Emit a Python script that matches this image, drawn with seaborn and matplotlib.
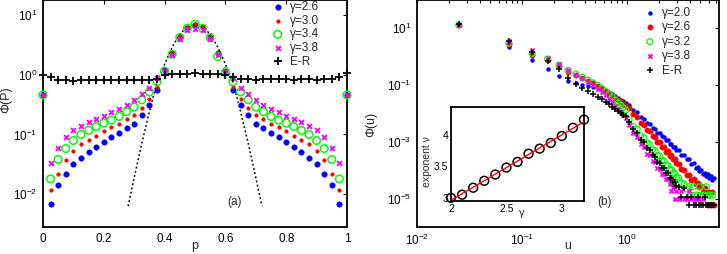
import numpy as np
import matplotlib
matplotlib.use("Agg")
import matplotlib.pyplot as plt
from matplotlib.ticker import NullLocator
import seaborn as sns

# ---------------- panel (a): Phi(P) against p ----------------
p_vals = [0.0, 0.025, 0.05, 0.075, 0.1, 0.125, 0.15, 0.175, 0.2, 0.225,
          0.25, 0.275, 0.3, 0.325, 0.35, 0.375, 0.4, 0.425, 0.45, 0.475,
          0.5, 0.525, 0.55, 0.575, 0.6, 0.625, 0.65, 0.675, 0.7, 0.725,
          0.75, 0.775, 0.8, 0.825, 0.85, 0.875, 0.9, 0.925, 0.95, 0.975, 1.0]

phi_g26 = [0.46, 0.0069, 0.014, 0.022, 0.032, 0.041, 0.051, 0.062, 0.074, 0.089,
           0.105, 0.126, 0.151, 0.209, 0.316, 0.56, 1.2, 2.3, 4.3, 6.1,
           6.8, 6.2, 4.3, 2.3, 1.2, 0.56, 0.316, 0.209, 0.151, 0.126,
           0.105, 0.089, 0.074, 0.062, 0.051, 0.041, 0.032, 0.022, 0.014, 0.0069, 0.46]
phi_g30 = [0.46, 0.0117, 0.022, 0.037, 0.052, 0.068, 0.081, 0.095, 0.112, 0.132,
           0.151, 0.178, 0.214, 0.282, 0.398, 0.63, 1.2, 2.3, 4.4, 6.3,
           7.0, 6.3, 4.4, 2.3, 1.2, 0.63, 0.398, 0.282, 0.214, 0.178,
           0.151, 0.132, 0.112, 0.095, 0.081, 0.068, 0.052, 0.037, 0.022, 0.0117, 0.46]
phi_g34 = [0.46, 0.018, 0.038, 0.058, 0.079, 0.100, 0.117, 0.135, 0.155, 0.174,
           0.200, 0.240, 0.288, 0.380, 0.513, 0.76, 1.15, 2.2, 4.2, 6.0,
           7.0, 6.0, 4.2, 2.0, 1.1, 0.76, 0.513, 0.380, 0.288, 0.240,
           0.200, 0.174, 0.155, 0.135, 0.117, 0.100, 0.079, 0.058, 0.038, 0.018, 0.46]
phi_g38 = [0.46, 0.033, 0.060, 0.089, 0.117, 0.138, 0.162, 0.182, 0.204, 0.234,
           0.269, 0.309, 0.372, 0.468, 0.603, 0.89, 1.1, 2.1, 4.0, 5.6,
           5.8, 5.6, 4.0, 2.1, 1.1, 0.89, 0.603, 0.468, 0.372, 0.309,
           0.269, 0.234, 0.204, 0.182, 0.162, 0.138, 0.117, 0.089, 0.060, 0.033, 0.46]
phi_er = [1.0, 0.92, 0.80, 0.80, 0.79, 0.80, 0.80, 0.80, 0.81, 0.80,
          0.80, 0.81, 0.80, 0.81, 0.81, 0.86, 0.98, 1.03, 1.04, 1.04,
          1.05, 1.04, 1.04, 1.03, 1.0, 0.93, 0.84, 0.84, 0.83, 0.84,
          0.84, 0.84, 0.84, 0.83, 0.84, 0.84, 0.83, 0.84, 0.84, 0.92, 1.05]

# dotted guide curve
guide_p = [0.28, 0.30, 0.325, 0.35, 0.375, 0.40, 0.425, 0.45, 0.475, 0.50,
           0.525, 0.55, 0.575, 0.60, 0.625, 0.65, 0.675, 0.70, 0.72]
guide_phi = [0.0063, 0.019, 0.071, 0.24, 0.76, 1.5, 2.9, 4.8, 6.3, 7.0,
             6.3, 4.8, 2.9, 1.5, 0.76, 0.24, 0.071, 0.019, 0.0063]

# ---------------- panel (b): Phi(u) against u (log10 of Phi) ----------------
u_vals = [0.025, 0.075, 0.125, 0.175, 0.225, 0.275, 0.325, 0.375, 0.425, 0.475,
          0.525, 0.575, 0.625, 0.675, 0.725, 0.775, 0.825, 0.875, 0.925, 0.975,
          1.05, 1.15, 1.25, 1.35, 1.45, 1.55, 1.65, 1.75, 1.85, 1.95,
          2.05, 2.15, 2.25, 2.35, 2.45, 2.55, 2.65, 2.75, 2.85, 2.95,
          3.1, 3.3, 3.5, 3.7, 3.9, 4.1, 4.3, 4.5, 4.7, 4.9,
          5.1, 5.3, 5.5, 5.7, 5.9, 6.1, 6.3, 6.5, 6.7]
nan = np.nan
logphi_g20 = [1.12, 0.33, -0.12, -0.44, -0.67, -0.84, -0.94, -0.99, -1.03, -1.07,
              -1.11, -1.16, -1.21, -1.27, -1.33, -1.39, -1.45, -1.51, -1.57, -1.63,
              -1.70, -1.88, -1.96, -2.13, -2.18, -2.33, -2.37, -2.51, -2.53, -2.67,
              -2.69, -2.81, -2.83, -2.95, -2.94, -3.08, -3.06, -3.19, -3.17, -3.29,
              -3.30, -3.46, -3.47, -3.62, -3.61, -3.77, -3.76, -3.91, -3.88, -4.03,
              -4.00, -4.13, -4.08, -4.20, -4.14, -4.27, -4.20, -4.33, -4.28]
logphi_g26 = [1.12, 0.45, 0.06, -0.13, -0.33, -0.52, -0.64, -0.74, -0.84, -0.93,
              -1.02, -1.11, -1.20, -1.29, -1.38, -1.46, -1.54, -1.61, -1.68, -1.74,
              -1.81, -2.03, -2.12, -2.33, -2.39, -2.58, -2.62, -2.80, -2.83, -3.00,
              -3.02, -3.17, -3.19, -3.34, -3.33, -3.49, -3.48, -3.62, -3.61, -3.75,
              -3.77, -3.95, -3.98, -4.16, -4.16, -4.33, -4.32, -4.47, -4.45, -4.60,
              -4.55, -4.77, -4.62, -4.77, -5.24, -4.77, -5.24, -4.77, -5.24]
logphi_g32 = [1.12, 0.48, 0.12, -0.08, -0.30, -0.48, -0.61, -0.72, -0.82, -0.92,
              -1.02, -1.12, -1.22, -1.32, -1.42, -1.52, -1.62, -1.71, -1.80, -1.88,
              -2.22, -2.46, -2.55, -2.78, -2.85, -3.04, -3.09, -3.27, -3.31, -3.48,
              -3.50, -3.66, -3.67, -3.82, -3.83, -3.98, -3.98, -4.12, -4.11, -4.25,
              -4.27, -4.45, -4.49, -4.66, -4.58, -4.88, -4.58, -4.88, -4.88, -4.58,
              -4.88, -4.88, -4.88, -4.58, -4.88, -4.88, nan, -4.88, nan]
logphi_g38 = [1.12, 0.54, 0.23, -0.04, -0.27, -0.48, -0.64, -0.76, -0.88, -1.00,
              -1.12, -1.24, -1.36, -1.48, -1.60, -1.72, -1.84, -1.95, -2.06, -2.17,
              -2.42, -2.70, -2.82, -3.08, -3.18, -3.41, -3.47, -3.67, -3.72, -3.91,
              -3.94, -4.12, -4.13, -4.30, -4.31, -4.47, -4.73, -4.60, -5.03, -4.73,
              -5.03, -4.73, -5.03, -5.03, -4.73, -5.03, -5.03, -5.03, nan, -5.03,
              nan, -5.03, nan, nan, nan, nan, nan, nan, nan]
logphi_er = [1.14, 0.55, 0.17, -0.15, -0.44, -0.74, -0.95, -1.10, -1.22, -1.32,
             -1.41, -1.50, -1.59, -1.68, -1.76, -1.84, -1.91, -1.98, -2.04, -2.10,
             -2.30, -2.56, -2.67, -2.92, -3.00, -3.21, -3.27, -3.47, -3.52, -3.71,
             -3.74, -3.91, -3.93, -4.09, -4.11, -4.26, -4.27, -4.41, -4.41, -4.56,
             -4.60, -4.94, -4.64, -4.94, -5.24, -4.94, -5.24, -5.24, -4.94, -5.24,
             -5.24, -5.24, -4.94, -5.24, -5.24, -5.24, -5.24, -5.24, -5.24]

# inset: exponent nu against gamma
gamma_in = [2.0, 2.1, 2.2, 2.3, 2.4, 2.5, 2.6, 2.7, 2.8, 2.9, 3.0, 3.1, 3.2]
nu_in = [3.00, 3.05, 3.16, 3.27, 3.37, 3.48, 3.57, 3.70, 3.78, 3.87, 3.98, 4.11, 4.24]

LIME = (0, 1, 0)

sns.set_theme(style="white")
plt.rcParams["font.family"] = ["Liberation Sans", "DejaVu Sans"]
plt.rcParams["mathtext.default"] = "regular"
plt.rcParams["axes.linewidth"] = 1.3
plt.rcParams["axes.edgecolor"] = "black"


def style_axes(ax, size=8.5):
    ax.tick_params(which="both", direction="in", top=True, right=True,
                   length=3, width=0.8, labelsize=size, pad=4, colors="black")
    ax.tick_params(which="minor", length=1.8)
    for sp in ax.spines.values():
        sp.set_visible(True)
        sp.set_color("black")


fig = plt.figure(figsize=(7.27, 2.54), dpi=100)
ax_a = fig.add_axes([43 / 727, 27 / 254, 304 / 727, 227 / 254])
ax_b = fig.add_axes([417 / 727, 27 / 254, 302 / 727, 227 / 254])

# ---- (a)
ax_a.set_yscale("log")
left_series = [
    (phi_g26, "γ=2.6", dict(marker="o", s=16, color="blue", edgecolor="blue", linewidth=0.3)),
    (phi_g30, "γ=3.0", dict(marker="o", s=7, color="red", edgecolor="red", linewidth=0.3)),
    (phi_g34, "γ=3.4", dict(marker="o", s=30, color=LIME, facecolor="none", edgecolor=LIME, linewidth=1.1)),
    (phi_g38, "γ=3.8", dict(marker="x", s=12, color="magenta", linewidth=1.4)),
    (phi_er, "E-R", dict(marker="+", s=26, color="black", linewidth=1.3)),
]
for vals, lab, kw in left_series:
    sns.scatterplot(x=p_vals, y=vals, ax=ax_a, label=lab, legend=False, zorder=3, clip_on=False, **kw)
sns.lineplot(x=guide_p, y=guide_phi, ax=ax_a, color="black", linestyle=(0, (1.2, 1.6)),
             linewidth=1.1, sort=False, estimator=None, zorder=2)

ax_a.set_xlim(0, 1)
ax_a.set_ylim(10 ** -2.55, 10 ** 1.25)
ax_a.set_xticks([0, 0.2, 0.4, 0.6, 0.8, 1])
ax_a.set_xticklabels(["0", "0.2", "0.4", "0.6", "0.8", "1"])
ax_a.set_yticks([1e-2, 1e-1, 1, 10])
ax_a.yaxis.set_minor_locator(NullLocator())
style_axes(ax_a)
ax_a.set_xlabel("p", fontsize=9)
ax_a.set_ylabel("Φ(P)", fontsize=9)
ax_a.xaxis.set_label_coords(0.5, -0.058)
ax_a.yaxis.set_label_coords(-0.10, 0.56)
ax_a.text(0.63, 0.11, "(a)", transform=ax_a.transAxes, ha="center", va="center", fontsize=8.5)
ax_a.legend(loc="upper right", bbox_to_anchor=(0.93, 1.025), frameon=False, fontsize=8.5,
            handletextpad=0.5, labelspacing=0.13, handlelength=1.0, borderaxespad=0.2)

# ---- (b)
ax_b.set_xscale("log")
ax_b.set_yscale("log")
right_series = [
    (logphi_g20, "γ=2.0", dict(marker="o", s=8, color="blue", edgecolor="blue", linewidth=0.3)),
    (logphi_g26, "γ=2.6", dict(marker="o", s=15, color="red", edgecolor="red", linewidth=0.3)),
    (logphi_g32, "γ=3.2", dict(marker="o", s=18, color=LIME, facecolor="none", edgecolor=LIME, linewidth=0.9)),
    (logphi_g38, "γ=3.8", dict(marker="x", s=9, color="magenta", linewidth=1.3)),
    (logphi_er, "E-R", dict(marker="+", s=18, color="black", linewidth=1.1)),
]
for logs, lab, kw in right_series:
    sns.scatterplot(x=u_vals, y=10.0 ** np.array(logs), ax=ax_b, label=lab, legend=False, zorder=3, **kw)

ax_b.set_xlim(1e-2, 10 ** 0.876)
ax_b.set_ylim(1e-6, 1e2)
ax_b.set_xticks([1e-2, 1e-1, 1])
ax_b.set_yticks([1e-5, 1e-3, 1e-1, 1e1])
ax_b.yaxis.set_minor_locator(NullLocator())
style_axes(ax_b)
ax_b.set_xlabel("u", fontsize=9)
ax_b.set_ylabel("Φ(u)", fontsize=9)
ax_b.xaxis.set_label_coords(0.5, -0.058)
ax_b.yaxis.set_label_coords(-0.13, 0.45)
ax_b.text(0.62, 0.11, "(b)", transform=ax_b.transAxes, ha="center", va="center", fontsize=8.5)
ax_b.legend(loc="upper right", bbox_to_anchor=(0.93, 1.0), frameon=False, fontsize=8.5,
            handletextpad=0.5, labelspacing=0.2, handlelength=1.0, borderaxespad=0.2)

# ---- inset
ax_in = fig.add_axes([451 / 727, 1 - 201 / 254, 133 / 727, 94 / 254])
sns.scatterplot(x=gamma_in, y=nu_in, ax=ax_in, marker="o", s=40, color="black",
                facecolor="none", edgecolor="black", linewidth=1.1, clip_on=False, zorder=3)
sns.regplot(x=gamma_in, y=nu_in, ax=ax_in, scatter=False, ci=None, color="red",
            line_kws=dict(linewidth=1.0, zorder=4))
ax_in.set_xlim(2.0, 3.2)
ax_in.set_ylim(2.95, 4.44)
ax_in.set_xticks([2, 2.5, 3])
ax_in.set_xticklabels(["2", "2.5", "3"])
ax_in.set_yticks([3, 3.5, 4])
ax_in.set_yticklabels(["3", "3.5", "4"])
style_axes(ax_in, size=7.5)
ax_in.tick_params(top=False, right=False, pad=2)
ax_in.set_xlabel("γ", fontsize=8)
ax_in.set_ylabel("exponent ν", fontsize=7.5)
ax_in.xaxis.set_label_coords(0.53, -0.07)
ax_in.yaxis.set_label_coords(-0.14, 0.42)

fig.savefig("out.png", dpi=100)
